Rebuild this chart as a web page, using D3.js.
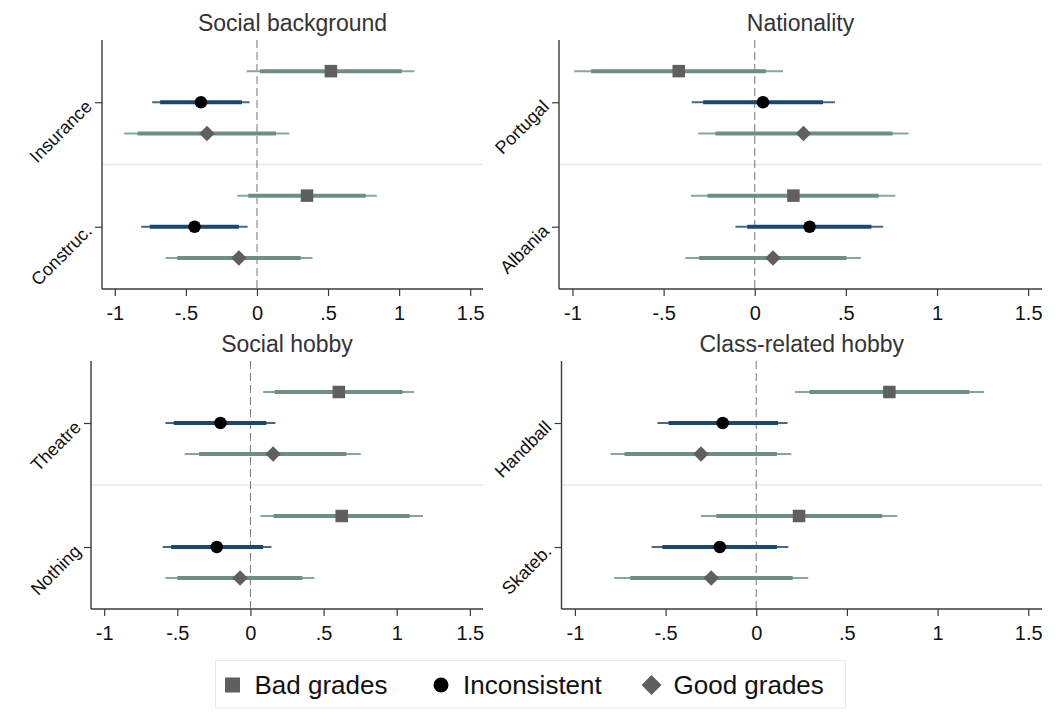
<!DOCTYPE html>
<html>
<head>
<meta charset="utf-8">
<script src="https://cdn.jsdelivr.net/npm/d3@7"></script>
<style>
  html, body { margin: 0; padding: 0; background: #ffffff; }
  svg { display: block; font-family: "Liberation Sans", Arial, Helvetica, sans-serif; }
</style>
</head>
<body>
<svg id="chart" width="1059" height="720"></svg>
<script>
// ---------------- data ----------------
const panelTitles = ["Social background", "Nationality", "Social hobby", "Class-related hobby"];
const categories = [
  ["Insurance", "Construc."],
  ["Portugal", "Albania"],
  ["Theatre", "Nothing"],
  ["Handball", "Skateb."]
];
const seriesNames = ["Bad grades", "Inconsistent", "Good grades"];
const xTicks = [-1, -0.5, 0, 0.5, 1, 1.5];
const xTickLabels = ["-1", "-.5", "0", ".5", "1", "1.5"];

// point estimates [panel][category][series]
const estimate = [
  [[0.520, -0.394, -0.352], [0.352, -0.439, -0.127]],
  [[-0.417, 0.045, 0.267], [0.212, 0.301, 0.100]],
  [[0.604, -0.205, 0.155], [0.624, -0.230, -0.071]],
  [[0.734, -0.185, -0.305], [0.236, -0.201, -0.248]]
];
// outer (thin) interval
const ciOuterLow = [
  [[-0.073, -0.737, -0.934], [-0.138, -0.815, -0.643]],
  [[-0.990, -0.346, -0.310], [-0.350, -0.106, -0.381]],
  [[0.087, -0.581, -0.449], [0.068, -0.601, -0.581]],
  [[0.213, -0.545, -0.803], [-0.305, -0.577, -0.783]]
];
const ciOuterHigh = [
  [[1.108, -0.052, 0.228], [0.843, -0.066, 0.390]],
  [[0.155, 0.440, 0.843], [0.772, 0.705, 0.582]],
  [[1.118, 0.171, 0.754], [1.180, 0.144, 0.437]],
  [[1.256, 0.173, 0.193], [0.778, 0.177, 0.287]]
];
// inner (thick) interval
const ciInnerLow = [
  [[0.021, -0.681, -0.840], [-0.061, -0.754, -0.561]],
  [[-0.898, -0.283, -0.216], [-0.259, -0.041, -0.305]],
  [[0.166, -0.524, -0.351], [0.159, -0.542, -0.499]],
  [[0.293, -0.484, -0.726], [-0.220, -0.518, -0.695]]
];
const ciInnerHigh = [
  [[1.019, -0.106, 0.134], [0.765, -0.127, 0.308]],
  [[0.061, 0.375, 0.756], [0.680, 0.640, 0.503]],
  [[1.039, 0.109, 0.656], [1.089, 0.087, 0.355]],
  [[1.175, 0.120, 0.114], [0.695, 0.114, 0.201]]
];

// ---------------- layout / style ----------------
const layout = [
  { x0: 102,   x1: 483,  y0: 40,  y1: 289, dom: [-1.09, 1.59] },
  { x0: 559,   x1: 1042, y0: 40,  y1: 289, dom: [-1.074, 1.576] },
  { x0: 91,    x1: 483,  y0: 361, y1: 609, dom: [-1.09, 1.59] },
  { x0: 561.5, x1: 1042, y0: 361, y1: 609, dom: [-1.074, 1.576] }
];
const thinColor = ["#86a89b", "#3f6a92", "#86a89b"];
const thickColor = ["#6d8f81", "#1a476f", "#6d8f81"];
const markerColor = ["#5f5f5f", "#000000", "#5f5f5f"];
const axisColor = "#3a3a3a";
const FONT = '"Liberation Sans", Arial, Helvetica, sans-serif';

const svg = d3.select("#chart");

function drawMarker(g, s, x, y, size) {
  if (s === 0) {
    g.append("rect").attr("x", x - size / 2).attr("y", y - size / 2)
      .attr("width", size).attr("height", size).attr("fill", markerColor[0]);
  } else if (s === 1) {
    g.append("circle").attr("cx", x).attr("cy", y).attr("r", size / 2)
      .attr("fill", markerColor[1]);
  } else {
    const h = size * 0.62;
    g.append("path").attr("d", `M${x},${y - h}L${x + h},${y}L${x},${y + h}L${x - h},${y}Z`)
      .attr("fill", markerColor[2]);
  }
}

panelTitles.forEach((title, p) => {
  const L = layout[p];
  const x = d3.scaleLinear().domain(L.dom).range([L.x0, L.x1]);
  const y = d3.scaleLinear().domain([0, 8]).range([L.y0, L.y1]);
  const g = svg.append("g");

  // title
  g.append("text").attr("x", (L.x0 + L.x1) / 2).attr("y", L.y0 - 9)
    .attr("text-anchor", "middle").attr("font-size", 23).attr("fill", "#333")
    .text(title);

  // separator between categories
  g.append("line").attr("x1", L.x0).attr("x2", L.x1)
    .attr("y1", y(4)).attr("y2", y(4))
    .attr("stroke", "#e8eff1").attr("stroke-width", 2);

  // zero reference line
  g.append("line").attr("x1", x(0)).attr("x2", x(0))
    .attr("y1", L.y0).attr("y2", L.y1)
    .attr("stroke", "#777").attr("stroke-width", 1)
    .attr("stroke-dasharray", "8,4");

  // x axis
  const xAxis = d3.axisBottom(x).tickValues(xTicks)
    .tickFormat((d, i) => xTickLabels[i]).tickSize(7).tickSizeOuter(0).tickPadding(8);
  const ax = g.append("g").attr("transform", `translate(0,${L.y1})`).call(xAxis);
  ax.select(".domain").attr("stroke", axisColor).attr("stroke-width", 1.4)
    .attr("d", `M${L.x0},0H${L.x1}`);
  ax.selectAll(".tick line").attr("stroke", axisColor).attr("stroke-width", 1.2);
  ax.selectAll(".tick text").attr("font-size", 20).attr("fill", "#111")
    .attr("font-family", FONT).attr("dy", "0.78em");

  // y axis
  const yPos = categories[p].map((c, ci) => ci * 4 + 2);
  const yAxis = d3.axisLeft(y).tickValues(yPos)
    .tickFormat((d, i) => categories[p][i]).tickSize(7).tickSizeOuter(0);
  const ay = g.append("g").attr("transform", `translate(${L.x0},0)`).call(yAxis);
  ay.select(".domain").attr("stroke", axisColor).attr("stroke-width", 1.4)
    .attr("d", `M0,${L.y0}V${L.y1}`);
  ay.selectAll(".tick line").attr("stroke", axisColor).attr("stroke-width", 1.2);
  ay.selectAll(".tick text").attr("font-size", 18).attr("fill", "#111")
    .attr("font-family", FONT)
    .attr("text-anchor", "end")
    .attr("x", 0).attr("dy", 0)
    .attr("transform", "translate(-9,5) rotate(-45)");

  // interval lines and markers
  categories[p].forEach((cat, ci) => {
    seriesNames.forEach((sn, s) => {
      const yy = y(ci * 4 + s + 1);
      g.append("line")
        .attr("x1", x(ciOuterLow[p][ci][s])).attr("x2", x(ciOuterHigh[p][ci][s]))
        .attr("y1", yy).attr("y2", yy)
        .attr("stroke", thinColor[s]).attr("stroke-width", 2);
      g.append("line")
        .attr("x1", x(ciInnerLow[p][ci][s])).attr("x2", x(ciInnerHigh[p][ci][s]))
        .attr("y1", yy).attr("y2", yy)
        .attr("stroke", thickColor[s]).attr("stroke-width", 4);
      drawMarker(g, s, x(estimate[p][ci][s]), yy, 12.5);
    });
  });
});

// ---------------- legend ----------------
const lg = svg.append("g");
lg.append("rect").attr("x", 215.5).attr("y", 660.5).attr("width", 630).attr("height", 47.5)
  .attr("fill", "#fff").attr("stroke", "#e3ecee").attr("stroke-width", 1);
const legendMarkerX = [232.5, 441, 651.5];
seriesNames.forEach((sn, s) => {
  const cx = legendMarkerX[s];
  if (s === 0) {
    lg.append("rect").attr("x", cx - 7.5).attr("y", 685 - 7.5).attr("width", 15).attr("height", 15)
      .attr("fill", markerColor[0]);
  } else if (s === 1) {
    lg.append("circle").attr("cx", cx).attr("cy", 685).attr("r", 7.5).attr("fill", markerColor[1]);
  } else {
    lg.append("path").attr("d", `M${cx},675L${cx + 10},685L${cx},695L${cx - 10},685Z`)
      .attr("fill", markerColor[2]);
  }
  lg.append("text").attr("x", cx + 22).attr("y", 694).attr("font-size", 26)
    .attr("fill", "#111").text(sn);
});
</script>
</body>
</html>
